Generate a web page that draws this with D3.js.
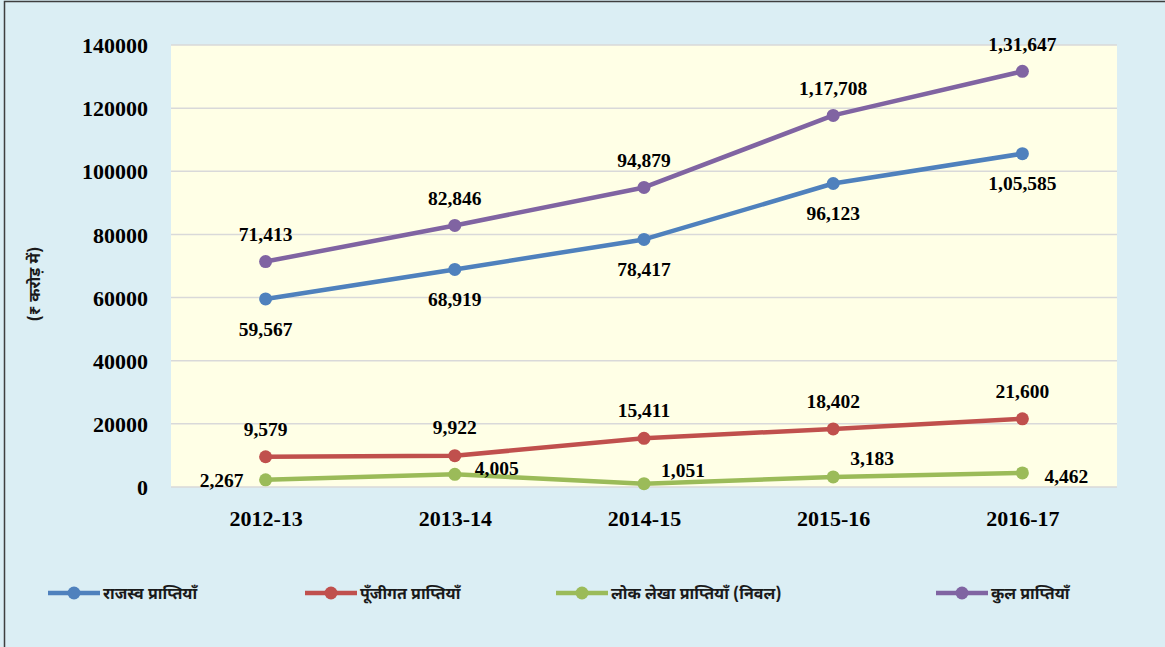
<!DOCTYPE html>
<html>
<head>
  <meta charset="utf-8">
  <title>प्राप्तियाँ 2012-13 से 2016-17</title>
  <style>
    body { margin: 0; background: #ffffff; }
    .num { font-family: "Liberation Serif", "Times New Roman", serif; font-weight: bold; fill: #000; }
    .hin { font-family: "Noto Sans Devanagari", "Lohit Devanagari", "Noto Sans", sans-serif; fill: #1a1a1a; }
  </style>
</head>
<body>
  <script src="https://cdn.jsdelivr.net/npm/d3@7/dist/d3.min.js"></script>
  <script>
    // data
    var years = ["2012-13", "2013-14", "2014-15", "2015-16", "2016-17"];
    var revenue = [59567, 68919, 78417, 96123, 105585];
    var capital = [9579, 9922, 15411, 18402, 21600];
    var publicAccount = [2267, 4005, 1051, 3183, 4462];
    var total = [71413, 82846, 94879, 117708, 131647];
    var seriesNames = ["राजस्व प्राप्तियाँ", "पूँजीगत प्राप्तियाँ", "लोक लेखा प्राप्तियाँ (निवल)", "कुल प्राप्तियाँ"];
    var yTicks = [0, 20000, 40000, 60000, 80000, 100000, 120000, 140000];

    var W = 1165, H = 647;
    var plot = {left: 171, right: 1117, top: 45, bottom: 487};

    var series = [
      {name: seriesNames[0], values: revenue, color: "#4F81BD", lab: {dx: 0, dy: 30, anchor: "middle"}},
      {name: seriesNames[1], values: capital, color: "#C0504D", lab: {dx: 0, dy: -28, anchor: "middle"}},
      {name: seriesNames[2], values: publicAccount, color: "#9BBB59", lab: null},
      {name: seriesNames[3], values: total, color: "#8064A2", lab: {dx: 0, dy: -27, anchor: "middle"}}
    ];
    // per-point label placement for the green series (it sits on the axis)
    var greenLab = [
      {dx: -22, dy: 0, anchor: "end"},
      {dx: 20, dy: -6, anchor: "start"},
      {dx: 17, dy: -14, anchor: "start"},
      {dx: 17, dy: -19, anchor: "start"},
      {dx: 22, dy: 3, anchor: "start"}
    ];

    var fmtIN = function(v) {
      var s = String(v);
      if (s.length <= 3) return s;
      var last3 = s.slice(-3), rest = s.slice(0, -3);
      rest = rest.replace(/\B(?=(\d{2})+(?!\d))/g, ",");
      return rest + "," + last3;
    };

    var svg = d3.select("body").append("svg")
      .attr("width", W).attr("height", H);

    svg.append("rect").attr("width", W).attr("height", H).attr("fill", "#DBEEF4");
    // outer frame
    svg.append("rect")
      .attr("x", 4.5).attr("y", 1.5).attr("width", W + 10).attr("height", H + 10)
      .attr("fill", "none").attr("stroke", "#3f3f3f").attr("stroke-width", 1.5);

    var x = d3.scalePoint().domain(years).range([plot.left, plot.right]).padding(0.5);
    var y = d3.scaleLinear().domain([0, 140000]).range([plot.bottom, plot.top]);

    svg.append("rect")
      .attr("x", plot.left).attr("y", plot.top)
      .attr("width", plot.right - plot.left).attr("height", plot.bottom - plot.top)
      .attr("fill", "#FFFFE6");

    // gridlines
    svg.append("g").selectAll("line").data(yTicks).enter().append("line")
      .attr("x1", plot.left).attr("x2", plot.right)
      .attr("y1", function(d) { return y(d); }).attr("y2", function(d) { return y(d); })
      .attr("stroke", "#D9D9D9").attr("stroke-width", 1.5);

    // y axis
    var yAxis = svg.append("g")
      .attr("transform", "translate(" + plot.left + ",0)")
      .call(d3.axisLeft(y).tickValues(yTicks).tickSize(0).tickPadding(23).tickFormat(d3.format("d")));
    yAxis.select(".domain").remove();
    yAxis.selectAll("text").attr("class", "num").style("font-size", "22px").attr("dy", "0.35em");

    // x axis
    var xAxis = svg.append("g")
      .attr("transform", "translate(0," + plot.bottom + ")")
      .call(d3.axisBottom(x).tickSize(0).tickPadding(23));
    xAxis.select(".domain").remove();
    xAxis.selectAll("text").attr("class", "num").style("font-size", "22px");

    // y axis title
    svg.append("text")
      .attr("class", "hin")
      .attr("transform", "translate(40,284) rotate(-90)")
      .attr("text-anchor", "middle")
      .style("font-size", "16px").style("font-weight", "bold")
      .text("(₹ करोड़ में)");

    var line = d3.line()
      .x(function(d, i) { return x(years[i]); })
      .y(function(d) { return y(d); });

    // draw order: green, red, blue, purple
    [2, 1, 0, 3].forEach(function(k) {
      var s = series[k];
      var g = svg.append("g");
      g.append("path").datum(s.values)
        .attr("d", line).attr("fill", "none")
        .attr("stroke", s.color).attr("stroke-width", 4.5)
        .attr("stroke-linejoin", "round").attr("stroke-linecap", "round");
      g.selectAll("circle").data(s.values).enter().append("circle")
        .attr("cx", function(d, i) { return x(years[i]); })
        .attr("cy", function(d) { return y(d); })
        .attr("r", 6.5).attr("fill", s.color);
    });

    // data labels
    series.forEach(function(s, k) {
      svg.append("g").selectAll("text").data(s.values).enter().append("text")
        .attr("class", "num")
        .style("font-size", "19.5px")
        .attr("x", function(d, i) { var l = s.lab || greenLab[i]; return x(years[i]) + l.dx; })
        .attr("y", function(d, i) { var l = s.lab || greenLab[i]; return y(d) + l.dy; })
        .attr("dy", "0.35em")
        .attr("text-anchor", function(d, i) { var l = s.lab || greenLab[i]; return l.anchor; })
        .text(function(d) { return fmtIN(d); });
    });

    // legend
    var legX = [48, 305, 556, 936];
    var legY = 593;
    series.forEach(function(s, k) {
      var g = svg.append("g").attr("transform", "translate(" + legX[k] + "," + legY + ")");
      g.append("line").attr("x1", 0).attr("x2", 52).attr("y1", 0).attr("y2", 0)
        .attr("stroke", s.color).attr("stroke-width", 4.5);
      g.append("circle").attr("cx", 26).attr("cy", 0).attr("r", 6.5).attr("fill", s.color);
      g.append("text").attr("class", "hin")
        .attr("x", 55).attr("y", 0).attr("dy", "0.35em")
        .style("font-size", "16px").style("font-weight", "bold")
        .text(s.name);
    });
  </script>
</body>
</html>
